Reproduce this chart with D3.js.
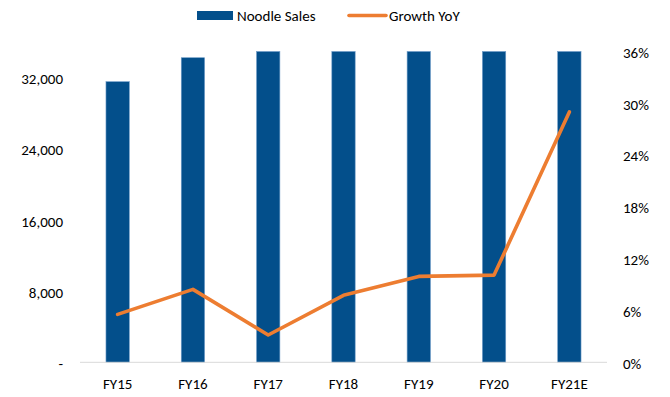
<!DOCTYPE html>
<html>
<head>
<meta charset="utf-8">
<script src="https://cdn.jsdelivr.net/npm/d3@7"></script>
<style>
  html, body { margin: 0; padding: 0; background: #fff; }
  svg text { font-family: Calibri, Carlito, Lato, "Open Sans", sans-serif; fill: #000; }
</style>
</head>
<body>
<svg id="chart" width="670" height="397"></svg>
<script>
// Noodle sales (bars, left axis) and year-on-year growth (line, right axis)
const categories = ["FY15", "FY16", "FY17", "FY18", "FY19", "FY20", "FY21E"];
const noodleSales = [31600, 34300, 35400, 38150, 41950, 46200, 59600];
const growthYoY = [0.0555, 0.0845, 0.0316, 0.0776, 0.0995, 0.101, 0.290];
const leftTicks = [0, 8000, 16000, 24000, 32000];
const rightTicks = [0, 0.06, 0.12, 0.18, 0.24, 0.30, 0.36];

const barColor = "#034F8B";
const lineColor = "#ED7D31";
const fontSize = 15;

const svg = d3.select("#chart");
const plot = { left: 80, right: 607, top: 51.5, bottom: 362.3 };

const x = d3.scaleBand()
  .domain(categories)
  .range([plot.left, plot.right])
  .paddingInner(0.69)
  .paddingOuter(0.345);

// Left value axis is capped at 35,000; taller bars are cut at the top
const yLeft = d3.scaleLinear().domain([0, 35000]).range([plot.bottom, plot.top]).clamp(true);
const yRight = d3.scaleLinear().domain([0, 0.36]).range([plot.bottom, plot.top]);

// Bars
svg.append("g")
  .selectAll("rect")
  .data(categories)
  .join("rect")
  .attr("x", d => x(d))
  .attr("width", x.bandwidth())
  .attr("y", (d, i) => yLeft(noodleSales[i]))
  .attr("height", (d, i) => plot.bottom - yLeft(noodleSales[i]))
  .attr("fill", barColor)
  .attr("stroke", "#6F9CC8")
  .attr("stroke-width", 0.6);

// Category axis line
svg.append("line")
  .attr("x1", plot.left).attr("x2", plot.right)
  .attr("y1", plot.bottom).attr("y2", plot.bottom)
  .attr("stroke", "#D9D9D9").attr("stroke-width", 1);

// Growth line
const line = d3.line()
  .x((d, i) => x(categories[i]) + x.bandwidth() / 2)
  .y(d => yRight(d));

svg.append("path")
  .datum(growthYoY)
  .attr("d", line)
  .attr("fill", "none")
  .attr("stroke", lineColor)
  .attr("stroke-width", 3.6)
  .attr("stroke-linejoin", "round")
  .attr("stroke-linecap", "round");

// Left axis
const leftAxis = d3.axisLeft(yLeft)
  .tickValues(leftTicks)
  .tickSize(0)
  .tickPadding(0)
  .tickFormat(d => d === 0 ? "-" : d3.format(",")(d));
const gl = svg.append("g").attr("transform", "translate(63,1)").call(leftAxis);
gl.select(".domain").remove();

// Right axis
const rightAxis = d3.axisRight(yRight)
  .tickValues(rightTicks)
  .tickSize(0)
  .tickPadding(0)
  .tickFormat(d3.format(".0%"));
const gr = svg.append("g").attr("transform", "translate(623,1)").call(rightAxis);
gr.select(".domain").remove();

// Bottom axis
const bottomAxis = d3.axisBottom(x).tickSize(0).tickPadding(0);
const gb = svg.append("g").attr("transform", "translate(0,378)").call(bottomAxis);
gb.select(".domain").remove();

svg.selectAll(".tick text")
  .attr("font-size", fontSize)
  .attr("fill", "#000")
  .style("font-family", null);

// Legend
const legend = svg.append("g");
legend.append("rect")
  .attr("x", 197).attr("y", 11).attr("width", 36).attr("height", 9)
  .attr("fill", barColor);
legend.append("text")
  .attr("x", 237).attr("y", 15.5).attr("dy", "0.35em")
  .attr("font-size", fontSize).text("Noodle Sales");
legend.append("line")
  .attr("x1", 349).attr("x2", 386).attr("y1", 15.5).attr("y2", 15.5)
  .attr("stroke", lineColor).attr("stroke-width", 3.6).attr("stroke-linecap", "round");
legend.append("text")
  .attr("x", 389).attr("y", 15.5).attr("dy", "0.35em")
  .attr("font-size", fontSize).text("Growth YoY");
</script>
</body>
</html>
